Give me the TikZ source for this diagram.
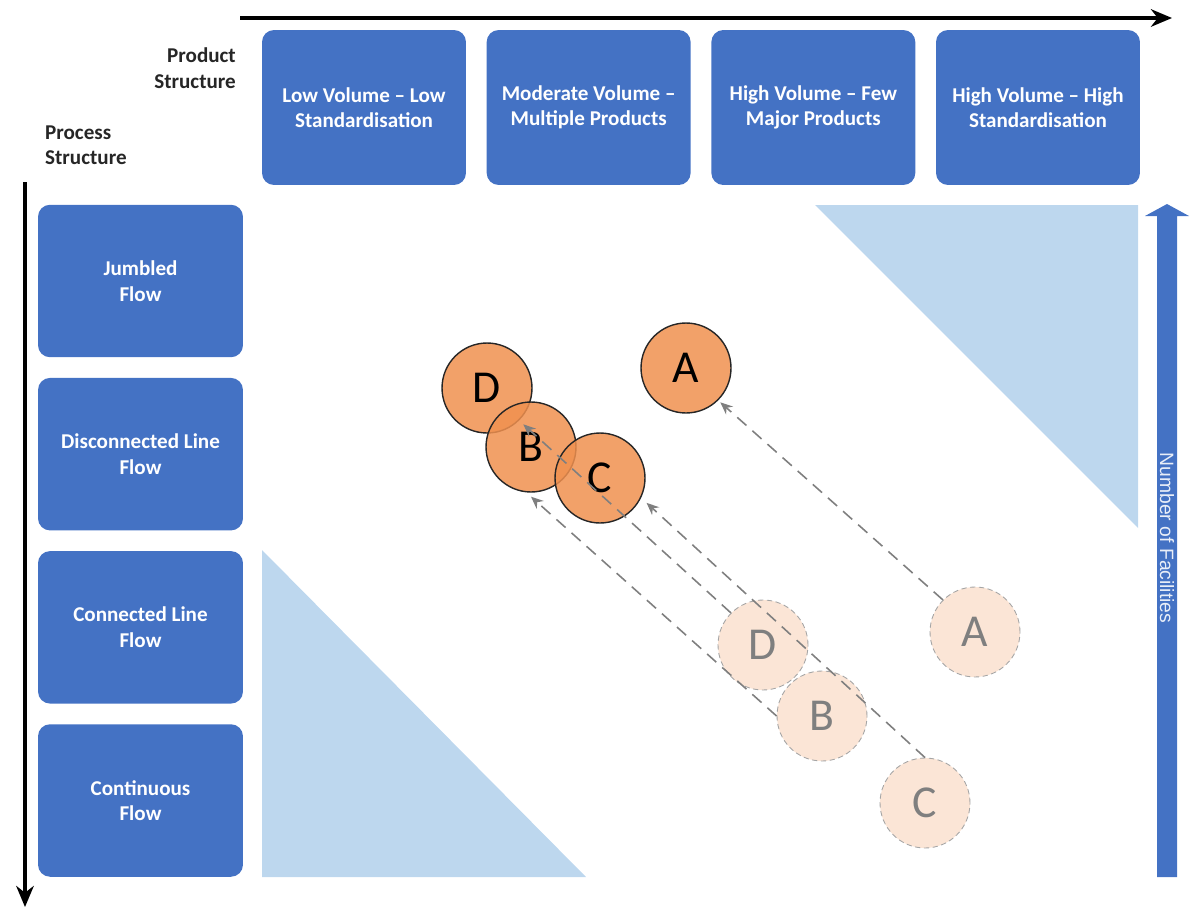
\documentclass[tikz,border=0pt]{standalone}
\usepackage{fontspec}
\setmainfont{Carlito}
\newfontfamily\arialfont{Liberation Sans}
\usepackage{xcolor}
\usepackage{tikz}
\usetikzlibrary{arrows.meta, positioning}
\definecolor{boxblue}{HTML}{4472C4}
\definecolor{lightblue}{HTML}{BDD7EE}
\definecolor{circorange}{HTML}{F0904F}
\definecolor{fadeorange}{HTML}{FBE5D6}
\definecolor{dashgray}{HTML}{7F7F7F}
\definecolor{labeltext}{HTML}{262626}
\tikzstyle{prodbox} = [rectangle, rounded corners=0.24cm, minimum width=4.08cm, minimum height=3.1cm, align=center, fill=boxblue, text=white, font=\fontsize{12}{14.5}\selectfont\bfseries]
\tikzstyle{procbox} = [prodbox, minimum width=4.1cm, minimum height=3.05cm]
\tikzstyle{newpos} = [circle, minimum size=1.8cm, inner sep=0pt, draw=black!85, line width=0.8pt, fill=circorange, fill opacity=0.85, text opacity=1, font=\fontsize{26}{30}\selectfont]
\tikzstyle{oldpos} = [circle, minimum size=1.8cm, inner sep=0pt, draw=dashgray!70, densely dashed, line width=0.5pt, fill=fadeorange, text=dashgray, font=\fontsize{26}{30}\selectfont]
\tikzstyle{movearrow} = [dashgray, line width=0.9pt, dash pattern=on 7pt off 4.5pt, -{Stealth[length=7pt, width=6pt]}]
\tikzstyle{axisarrow} = [line width=2pt, -{Stealth[length=12pt, width=10pt]}]

\begin{document}
\begin{tikzpicture}[x=0.02cm, y=-0.02cm]
    \useasboundingbox (0,0) rectangle (1192,909);

    % axes
    \coordinate (xstart) at (240,18);
    \coordinate (xend) at (1172,18);
    \coordinate (ystart) at (25,182);
    \coordinate (yend) at (25,907);
    \draw [axisarrow] (xstart) -- (xend);
    \draw [axisarrow] (ystart) -- (yend);

    \node (prodlbl) [anchor=east, align=right, text=labeltext, font=\fontsize{12}{14.5}\selectfont\bfseries] at (242,68) {Product\\Structure};
    \node (proclbl) [anchor=west, align=left, text=labeltext, font=\fontsize{12}{14.5}\selectfont\bfseries] at (39,145) {Process\\Structure};

    % product structure
    \node (p1) [prodbox] at (364,107.5) {Low Volume -- Low\\Standardisation};
    \node (p2) [prodbox, right=0.4cm of p1] {Moderate Volume --\\Multiple Products};
    \node (p3) [prodbox, right=0.4cm of p2] {High Volume -- Few\\Major Products};
    \node (p4) [prodbox, right=0.4cm of p3] {High Volume -- High\\Standardisation};

    % process structure
    \node (s1) [procbox] at (140.5,281) {Jumbled\\Flow};
    \node (s2) [procbox, below=0.4cm of s1] {Disconnected Line\\Flow};
    \node (s3) [procbox, below=0.4cm of s2] {Connected Line\\Flow};
    \node (s4) [procbox, below=0.4cm of s3] {Continuous\\Flow};

    % off-diagonal corners
    \fill [lightblue] (262,550) -- (262,877) -- (586,877) -- cycle;
    \fill [lightblue] (815,205) -- (1138,205) -- (1138,528) -- cycle;

    % number of facilities
    \fill [boxblue] (1157,877) -- (1157,216) -- (1145,216) -- (1167,204) -- (1189,216) -- (1177,216) -- (1177,877) -- cycle;
    \node (nof) [rotate=-90, text=white!88!boxblue, font=\arialfont\fontsize{11}{13}\selectfont] at (1167,538) {Number of Facilities};

    % positions
    \node (fD) [oldpos] at (763,645) {D};
    \node (fA) [oldpos] at (975,632) {A};
    \node (fB) [oldpos] at (822,716) {B};
    \node (fC) [oldpos] at (925,803) {C};

    \node (D) [newpos] at (487,388) {D};
    \node (A) [newpos] at (686,368) {A};
    \node (B) [newpos] at (531,447) {B};
    \node (C) [newpos] at (600,478) {C};

    \draw [movearrow] (fA.north west) -- ([shift={(2,2)}]A.south east);
    \draw [movearrow] (fD.north west) -- ([shift={(4,4)}]D.south east);
    \draw [movearrow] (fB.west) -- ([yshift=-0.08cm]B.south);
    \draw [movearrow] (fC.north) -- ([shift={(7,2)}]C.-30);
\end{tikzpicture}
\end{document}
